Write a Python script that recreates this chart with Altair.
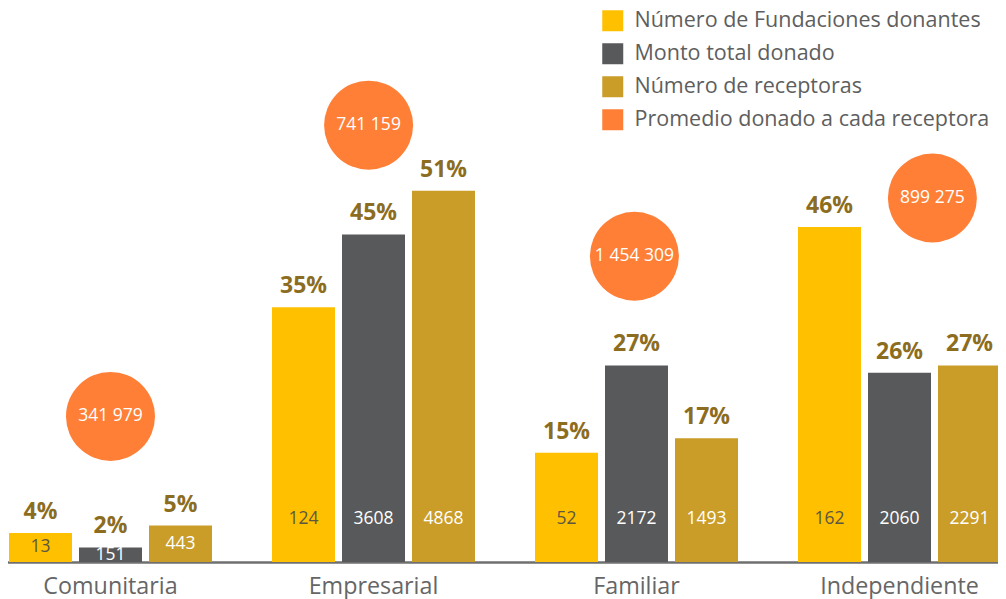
import altair as alt
import pandas as pd

# ---------------- data ----------------
categories = ["Comunitaria", "Empresarial", "Familiar", "Independiente"]
series_names = ["Número de Fundaciones donantes", "Monto total donado", "Número de receptoras"]
avg_name = "Promedio donado a cada receptora"

pct_fundaciones = [4, 35, 15, 46]
pct_monto = [2, 45, 27, 26]
pct_receptoras = [5, 51, 17, 27]

num_fundaciones = [13, 124, 52, 162]
monto_total = [151, 3608, 2172, 2060]
num_receptoras = [443, 4868, 1493, 2291]

promedio = [341979, 741159, 1454309, 899275]
circle_level = [20, 60, 42, 50]          # bubble height, in % units of the bar scale
circle_slot = [0, -0.07, -0.03, 0.47]    # bubble shift from the middle bar, in bar slots

colors = ["#FFC000", "#58595B", "#C99D28", "#FF7F37"]

# ---------------- tables ----------------
rows = []
for i, c in enumerate(categories):
    for s, pcts, vals in zip(series_names,
                             [pct_fundaciones, pct_monto, pct_receptoras],
                             [num_fundaciones, monto_total, num_receptoras]):
        rows.append({"cat": c, "series": s, "pct": pcts[i], "val": str(vals[i]),
                     "pct_label": f"{pcts[i]}%"})
bars_df = pd.DataFrame(rows)

circ_df = pd.DataFrame({
    "cat": categories,
    "series": [avg_name] * len(categories),
    "level": circle_level,
    "slot": circle_slot,
    "label": [f"{v:,}".replace(",", " ") for v in promedio],
})

FONT = "Open Sans"

x_enc = alt.X("cat:N", sort=categories,
              scale=alt.Scale(range=[-29, 1023], paddingInner=0, paddingOuter=0),
              axis=alt.Axis(title=None, ticks=False, tickSize=0, labelAngle=0,
                            labelFontSize=23.3, labelFont=FONT, labelColor="#666666",
                            labelPadding=31, labelBaseline="alphabetic",
                            domainColor="#6f6f6f", domainWidth=2.5, grid=False,
                            labelLimit=0))
xoff_enc = alt.XOffset("series:N", sort=series_names,
                       scale=alt.Scale(type="band", paddingInner=0.1, paddingOuter=0.4286))
y_scale = alt.Scale(domain=[0, 76.1], nice=False, zero=True)

color_enc = alt.Color("series:N",
                      scale=alt.Scale(domain=series_names + [avg_name], range=colors),
                      legend=alt.Legend(orient="none", legendX=594, legendY=2, title=None,
                                        symbolType="square", symbolSize=441,
                                        symbolStrokeWidth=0, labelFontSize=21.5,
                                        labelFont=FONT, labelColor="#5e5e5e",
                                        labelLimit=0, rowPadding=10, labelOffset=11,
                                        direction="vertical"))

base = alt.Chart(bars_df).encode(x=x_enc, xOffset=xoff_enc)

bars = base.mark_bar().encode(
    y=alt.Y("pct:Q", scale=y_scale, axis=None),
    color=color_enc,
)

pct_text = base.mark_text(dy=-14, baseline="alphabetic", fontWeight="bold",
                          fontSize=23, font=FONT, color="#8C6D1F").encode(
    y=alt.Y("pct:Q", scale=y_scale, axis=None),
    text="pct_label:N",
)

val_text = base.transform_calculate(
    lab_y="min(datum.pct / 2, 5.9)"
).mark_text(baseline="middle", fontSize=17.5, font=FONT).encode(
    y=alt.Y("lab_y:Q", scale=y_scale, axis=None),
    text="val:N",
    color=alt.condition(alt.datum.series == series_names[0],
                        alt.value("#5c5740"), alt.value("#ffffff")),
)

cbase = alt.Chart(circ_df).encode(
    x=x_enc,
    xOffset=alt.XOffset("slot:Q", scale=alt.Scale(domain=[-1.879, 1.879], range=[0, 263],
                                                  nice=False, zero=False)),
    y=alt.Y("level:Q", scale=y_scale, axis=None),
)

circles = cbase.mark_circle(size=7921, opacity=1).encode(color=color_enc)
circ_text = cbase.mark_text(fontSize=17.5, font=FONT, color="#ffffff",
                            baseline="middle").encode(text="label:N")

chart = alt.layer(bars, pct_text, val_text, circles, circ_text).resolve_scale(
    xOffset="independent"
).properties(
    width=990, height=554,
    autosize=alt.AutoSizeParams(type="none"),
    padding={"left": 0, "top": 0, "right": 0, "bottom": 37},
).configure_view(strokeWidth=0)

chart.save("out.html", embed_options={"renderer": "svg", "actions": False})
